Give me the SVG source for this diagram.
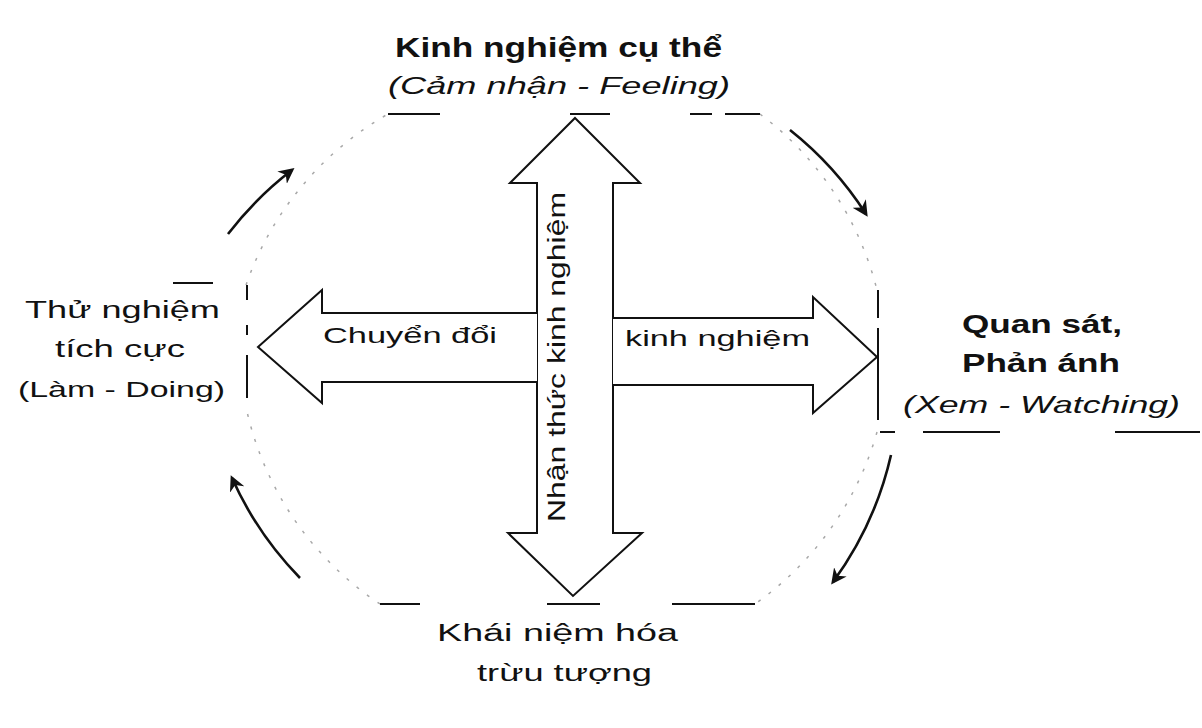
<svg xmlns="http://www.w3.org/2000/svg" width="1202" height="728" viewBox="0 0 1202 728">
<style>
.t{font-family:"Liberation Sans",Arial,sans-serif;fill:#111}
.b{font-weight:bold}
.i{font-style:italic}
.edge{stroke:#111;stroke-width:2;fill:none}
.ring{stroke:#a8a8a8;stroke-width:1.5;fill:none;stroke-dasharray:3 10}
.cyc{stroke:#111;stroke-width:2.6;fill:none;marker-end:url(#ah)}
.arr{stroke:#111;stroke-width:2;fill:#fff;stroke-linejoin:miter}
</style>
<defs>
<marker id="ah" viewBox="0 0 10 10" refX="8" refY="5" markerWidth="6" markerHeight="6" orient="auto-start-reverse" markerUnits="strokeWidth">
<path d="M0,0 L10,5 L0,10 L3,5 z" fill="#111"/>
</marker>
</defs>
<rect width="1202" height="728" fill="#fff"/>

<g id="ring">
<path class="ring" d="M760,114 A316 316 0 0 1 877,290"/>
<path class="ring" d="M877,432 A316 316 0 0 1 755,604"/>
<path class="ring" d="M380,604 A316 316 0 0 1 246,407"/>
<path class="ring" d="M246,285 A316 316 0 0 1 388,114"/>
</g>

<g id="top-node">
<text class="t b" x="395" y="57" font-size="27" textLength="327" lengthAdjust="spacingAndGlyphs">Kinh nghiệm cụ thể</text>
<text class="t i" x="388" y="94" font-size="24" textLength="342" lengthAdjust="spacingAndGlyphs">(Cảm nhận - Feeling)</text>
<path class="edge" d="M388,114 H440 M570,114 H610 M690,114 H712 M725,114 H760"/>
</g>

<g id="right-node">
<text class="t b" x="962" y="333" font-size="25" textLength="160" lengthAdjust="spacingAndGlyphs">Quan sát,</text>
<text class="t b" x="962" y="372" font-size="25" textLength="158" lengthAdjust="spacingAndGlyphs">Phản ánh</text>
<text class="t i" x="903" y="413" font-size="24" textLength="277" lengthAdjust="spacingAndGlyphs">(Xem - Watching)</text>
<path class="edge" d="M878,290 V318 M878,328 V420 M880,432 H895 M923,432 H1000 M1115,432 H1200"/>
</g>

<g id="bottom-node">
<text class="t" x="437" y="641" font-size="23" textLength="241" lengthAdjust="spacingAndGlyphs">Khái niệm hóa</text>
<text class="t" x="477" y="681" font-size="23" textLength="175" lengthAdjust="spacingAndGlyphs">trừu tượng</text>
<path class="edge" d="M380,604 H420 M547,604 H600 M672,604 H755"/>
</g>

<g id="left-node">
<text class="t" x="25" y="318" font-size="23" textLength="195" lengthAdjust="spacingAndGlyphs">Thử nghiệm</text>
<text class="t" x="55" y="357" font-size="23" textLength="130" lengthAdjust="spacingAndGlyphs">tích cực</text>
<text class="t" x="18" y="397" font-size="22" textLength="207" lengthAdjust="spacingAndGlyphs">(Làm - Doing)</text>
<path class="edge" d="M173,283 H213 M247,285 V300 M247,325 V335 M247,355 V398"/>
</g>

<g id="center-arrows">
<path class="arr" d="M575,118 L640,183 L613,183 L613,533 L642,533 L573,596 L508,533 L537,533 L537,183 L510,183 Z"/>
<path class="arr" d="M537,313 L322,313 L322,290 L258,347 L322,403 L322,382 L537,382"/>
<path class="arr" d="M613,318 L813,318 L813,297 L877,357 L813,413 L813,385 L613,385"/>
<text class="t" transform="translate(565,522) rotate(-90)" font-size="23" textLength="330" lengthAdjust="spacingAndGlyphs">Nhận thức kinh nghiệm</text>
<text class="t" x="323" y="343" font-size="22" textLength="174" lengthAdjust="spacingAndGlyphs">Chuyển đổi</text>
<text class="t" x="625" y="346" font-size="22" textLength="185" lengthAdjust="spacingAndGlyphs">kinh nghiệm</text>
</g>

<g id="connectors">
<path class="cyc" d="M228,234 A345 345 0 0 1 292,170"/>
<path class="cyc" d="M790,130 A345 345 0 0 1 866,214"/>
<path class="cyc" d="M891,455 A345 345 0 0 1 833,582"/>
<path class="cyc" d="M300,578 A345 345 0 0 1 232,478"/>
</g>
</svg>
